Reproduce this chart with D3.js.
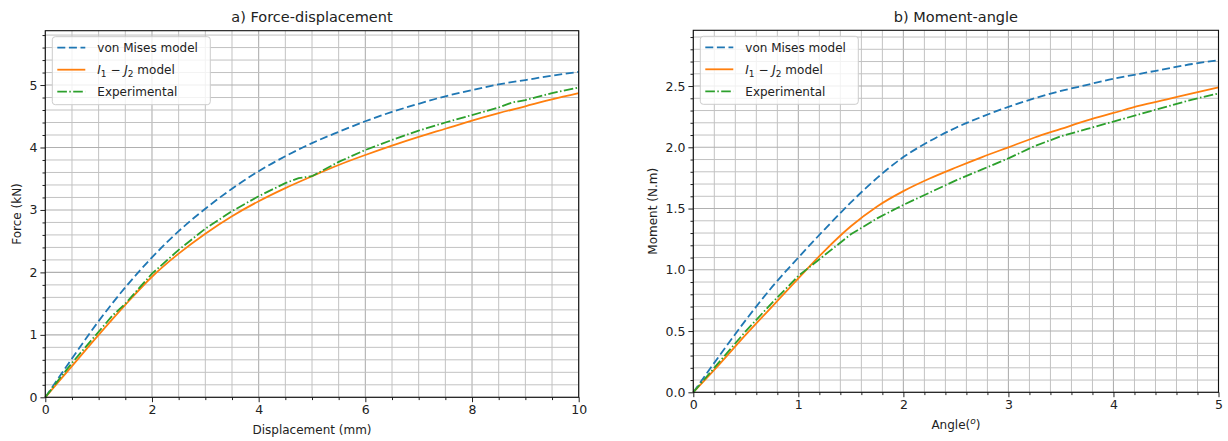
<!DOCTYPE html>
<html><head><meta charset="utf-8">
<script src="https://cdn.jsdelivr.net/npm/d3@7"></script>
<style>body{margin:0;background:#fff}svg{display:block}text{font-family:"DejaVu Sans",sans-serif;fill:#222}</style>
</head><body><svg id="c" width="1228" height="441"></svg>
<script>
// ---- Data: a) Force-displacement ----
const dispX = [0,0.5,1,1.5,2,2.5,3,3.5,4,4.5,5,5.5,6,6.5,7,7.5,8,8.5,9,9.5,10];
const forceVonMises = [0,0.62,1.22,1.76,2.24,2.66,3.02,3.34,3.62,3.86,4.07,4.25,4.42,4.57,4.70,4.82,4.92,5.01,5.08,5.15,5.21];
const forceI1J2 = [0,0.50,1.00,1.48,1.93,2.30,2.62,2.90,3.14,3.35,3.54,3.72,3.88,4.03,4.17,4.30,4.43,4.55,4.66,4.77,4.87];
const expDispX = [0,0.25,0.5,0.75,1,1.25,1.5,1.75,2,2.5,3,3.5,4,4.5,4.75,5,5.5,6,6.5,7,7.5,8,8.5,8.75,9,9.5,10];
const forceExp = [0,0.28,0.55,0.80,1.05,1.30,1.50,1.74,1.98,2.36,2.70,2.98,3.22,3.43,3.51,3.54,3.77,3.96,4.12,4.27,4.40,4.52,4.64,4.72,4.76,4.87,4.96];

// ---- Data: b) Moment-angle ----
const angleX = [0,0.25,0.5,0.75,1,1.25,1.5,1.75,2,2.25,2.5,2.75,3,3.25,3.5,3.75,4,4.25,4.5,4.75,5];
const momentVonMises = [0,0.30,0.59,0.86,1.10,1.33,1.55,1.75,1.92,2.05,2.16,2.25,2.33,2.40,2.46,2.51,2.56,2.60,2.64,2.68,2.71];
const momentI1J2 = [0,0.23,0.47,0.70,0.93,1.155,1.355,1.517,1.642,1.745,1.835,1.92,2.00,2.08,2.15,2.22,2.28,2.34,2.39,2.44,2.49];
const momentExp = [0,0.25,0.50,0.73,0.95,1.12,1.29,1.42,1.53,1.63,1.73,1.82,1.91,2.01,2.09,2.15,2.21,2.27,2.33,2.39,2.44];

const seriesNames = ["von Mises model","I1-J2 model","Experimental"];
const colors = ["#1f77b4","#ff7f0e","#2ca02c"];
const dashes = ["8,3.6","none","9.6,2.4,1.5,2.4"];

const panels = [
  {title:"a) Force-displacement", xlab:"Displacement (mm)", ylab:"Force (kN)",
   left:45.3, right:578.7, top:30.7, bottom:397.3, xdom:[0,10], ydom:[0,5.87],
   xMajor:d3.range(0,10.01,2), xMinor:d3.range(0,10.01,0.5),
   yMajor:d3.range(0,5.01,1), yMinor:d3.range(0,5.87,0.2), yfmt:d3.format("d"),
   series:[[dispX,forceVonMises],[dispX,forceI1J2],[expDispX,forceExp]], ylabX:17},
  {title:"b) Moment-angle", xlab:"Angle", ylab:"Moment (N.m)",
   left:693.3, right:1218.5, top:30.3, bottom:392.3, xdom:[0,5], ydom:[0,2.955],
   xMajor:d3.range(0,5.01,1), xMinor:d3.range(0,5.01,0.2),
   yMajor:d3.range(0,2.51,0.5), yMinor:d3.range(0,2.955,0.1), yfmt:d3.format(".1f"),
   series:[[angleX,momentVonMises],[angleX,momentI1J2],[angleX,momentExp]], ylabX:653}
];

const svg = d3.select("#c");
panels.forEach((p,pi)=>{
  const x = d3.scaleLinear().domain(p.xdom).range([p.left,p.right]);
  const y = d3.scaleLinear().domain(p.ydom).range([p.bottom,p.top]);
  const g = svg.append("g");
  const near = (a,b)=>Math.abs(a-b)<1e-6;
  p.xMinor.forEach(v=>{ const maj = p.xMajor.some(m=>near(m,v));
    g.append("line").attr("x1",x(v)).attr("x2",x(v)).attr("y1",p.top).attr("y2",p.bottom)
     .attr("stroke",maj?"#b0b0b0":"#c2c2c2").attr("stroke-width",maj?1.1:1);});
  p.yMinor.forEach(v=>{ const maj = p.yMajor.some(m=>near(m,v));
    g.append("line").attr("y1",y(v)).attr("y2",y(v)).attr("x1",p.left).attr("x2",p.right)
     .attr("stroke",maj?"#b0b0b0":"#c2c2c2").attr("stroke-width",maj?1.1:1);});
  p.series.forEach((s,i)=>{
    const pts = s[0].map((xv,k)=>[xv,s[1][k]]);
    const line = d3.line().x(d=>x(d[0])).y(d=>y(d[1])).curve(i==2?d3.curveLinear:d3.curveMonotoneX);
    g.append("path").attr("d",line(pts)).attr("fill","none").attr("stroke",colors[i])
     .attr("stroke-width",1.8).attr("stroke-dasharray",dashes[i]);
  });
  const xAx = d3.axisBottom(x).tickValues(p.xMajor).tickFormat(d3.format("d")).tickSize(4.9).tickPadding(3);
  const xAxMin = d3.axisBottom(x).tickValues(p.xMinor.filter(v=>!p.xMajor.some(m=>near(m,v)))).tickFormat("").tickSize(2.8);
  const yAx = d3.axisLeft(y).tickValues(p.yMajor).tickFormat(p.yfmt).tickSize(4.9).tickPadding(3);
  const yAxMin = d3.axisLeft(y).tickValues(p.yMinor.filter(v=>!p.yMajor.some(m=>near(m,v)))).tickFormat("").tickSize(2.8);
  [[xAx,"b"],[xAxMin,"b"],[yAx,"l"],[yAxMin,"l"]].forEach(([ax,side])=>{
    const a = g.append("g").attr("transform", side=="b"?`translate(0,${p.bottom})`:`translate(${p.left},0)`).call(ax);
    a.select(".domain").remove();
    a.selectAll("line").attr("stroke","#222").attr("stroke-width",1);
    a.selectAll("text").style("font-size","12.5px").attr("fill","#222");
  });
  g.append("rect").attr("x",p.left).attr("y",p.top).attr("width",p.right-p.left).attr("height",p.bottom-p.top)
   .attr("fill","none").attr("stroke","#111").attr("stroke-width",1.1);
  g.append("text").attr("x",(p.left+p.right)/2).attr("y",22).attr("text-anchor","middle").style("font-size","14.5px").text(p.title);
  const xl = g.append("text").attr("x",(p.left+p.right)/2).attr("y",p.bottom+37).attr("text-anchor","middle").style("font-size","12px");
  if(pi==1){ xl.append("tspan").text("Angle(");
    xl.append("tspan").attr("dy",-5).style("font-size","9px").style("font-style","italic").text("o");
    xl.append("tspan").attr("dy",5).text(")"); }
  else xl.text(p.xlab);
  g.append("text").attr("transform",`translate(${p.ylabX},${(p.top+p.bottom)/2}) rotate(-90)`).attr("text-anchor","middle")
   .attr("dy","0.35em").style("font-size","12px").text(p.ylab);
  const lx = p.left+7, ly = p.top+6;
  g.append("rect").attr("x",lx).attr("y",ly).attr("width",158).attr("height",68).attr("rx",3)
   .attr("fill","#fff").attr("fill-opacity",0.8).attr("stroke","#cccccc");
  seriesNames.forEach((n,i)=>{
    const yy = ly+11+i*22;
    g.append("line").attr("x1",lx+5).attr("x2",lx+33).attr("y1",yy).attr("y2",yy).attr("stroke",colors[i])
     .attr("stroke-width",1.8).attr("stroke-dasharray",dashes[i]);
    const t = g.append("text").attr("x",lx+45).attr("y",yy).attr("dy","0.35em").style("font-size","12px");
    if(i==1){
      t.append("tspan").style("font-style","italic").text("I");
      t.append("tspan").attr("dy",3).style("font-size","9px").text("1");
      t.append("tspan").attr("dy",-3).text(" \u2212 ");
      t.append("tspan").style("font-style","italic").text("J");
      t.append("tspan").attr("dy",3).style("font-size","9px").text("2");
      t.append("tspan").attr("dy",-3).text(" model");
    } else t.text(n);
  });
});
</script></body></html>
